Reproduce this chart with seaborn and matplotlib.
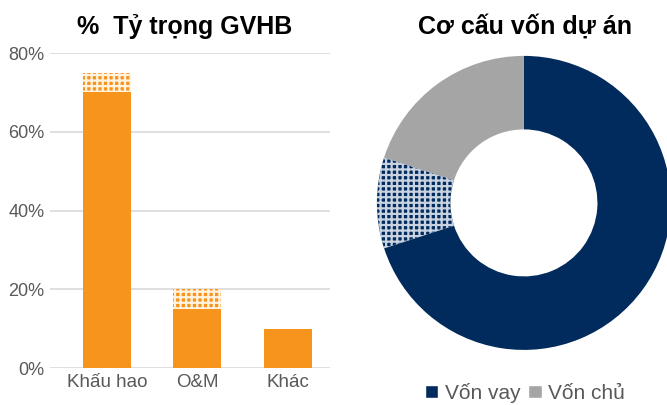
import matplotlib
matplotlib.use("Agg")
import matplotlib.pyplot as plt
from matplotlib.patches import Patch
import pandas as pd
import seaborn as sns

# bar chart data (% of cost of goods sold)
categories = ["Khấu hao", "O&M", "Khác"]
base_vals = [70, 15, 10]
upper_vals = [5, 5, 0]
y_ticks = [0, 20, 40, 60, 80]

# donut data (capital structure)
capital_labels = ["Vốn vay", "Vốn vay (thêm)", "Vốn chủ"]
capital_vals = [70, 10, 20]
legend_labels = ["Vốn vay", "Vốn chủ"]

orange = "#F7941D"
navy = "#002B5C"
grey = "#A5A5A5"
text_grey = "#595959"

sns.set_theme(style="white")
plt.rcParams["font.family"] = ["Liberation Sans", "DejaVu Sans"]
plt.rcParams["hatch.linewidth"] = 1.6

fig = plt.figure(figsize=(6.67, 4.05), dpi=100)

# ---- left: bars ----
ax = fig.add_axes([0.075, 0.091, 0.42, 0.778])
df = pd.DataFrame({
    "cat": categories,
    "total": [b + u for b, u in zip(base_vals, upper_vals)],
    "base": base_vals,
})
sns.barplot(data=df, x="cat", y="total", color=orange, width=0.53,
            saturation=1, ax=ax)
n_top = len(ax.patches)
for p in ax.patches[:n_top]:
    p.set_hatch("+++")
    p.set_edgecolor("#FFF3E0")
    p.set_linewidth(0)
sns.barplot(data=df, x="cat", y="base", color=orange, width=0.53,
            saturation=1, ax=ax)
for p in ax.patches[n_top:]:
    p.set_linewidth(0)

ax.set_ylim(0, 80)
ax.set_xlim(-0.63, 2.47)
ax.set_yticks(y_ticks)
ax.set_yticklabels([f"{v}%" for v in y_ticks])
ax.yaxis.grid(True, color="#D9D9D9", linewidth=1.2)
ax.set_axisbelow(True)
for s in ax.spines.values():
    s.set_visible(False)
ax.set_xlabel("")
ax.set_ylabel("")
ax.tick_params(axis="y", colors=text_grey, labelsize=13, length=0, pad=4)
ax.tick_params(axis="x", colors=text_grey, labelsize=13.5, length=0, pad=4)

fig.text(0.277, 0.935, "%  Tỷ trọng GVHB", ha="center", va="center",
         fontsize=18, fontweight="bold", color="black")

# ---- right: donut ----
ax2 = fig.add_axes([0.565, 0.136, 0.441, 0.726])
wedges, _ = ax2.pie(capital_vals, colors=[navy, navy, grey], startangle=90,
                    counterclock=False, radius=1,
                    wedgeprops=dict(width=0.5, linewidth=0))
wedges[1].set_hatch("+++")
wedges[1].set_edgecolor("#C8D2E0")
wedges[1].set_linewidth(0)
ax2.set_xlim(-1, 1)
ax2.set_ylim(-1, 1)

fig.text(0.787, 0.935, "Cơ cấu vốn dự án", ha="center", va="center",
         fontsize=18, fontweight="bold", color="black")

handles = [Patch(facecolor=navy, label=legend_labels[0]),
           Patch(facecolor=grey, label=legend_labels[1])]
fig.legend(handles=handles, loc="center", bbox_to_anchor=(0.787, 0.03),
           ncol=2, frameon=False, fontsize=15, handlelength=0.65,
           handleheight=0.65, handletextpad=0.3, columnspacing=0.4,
           labelcolor=text_grey)

fig.savefig("out.png", dpi=100)
